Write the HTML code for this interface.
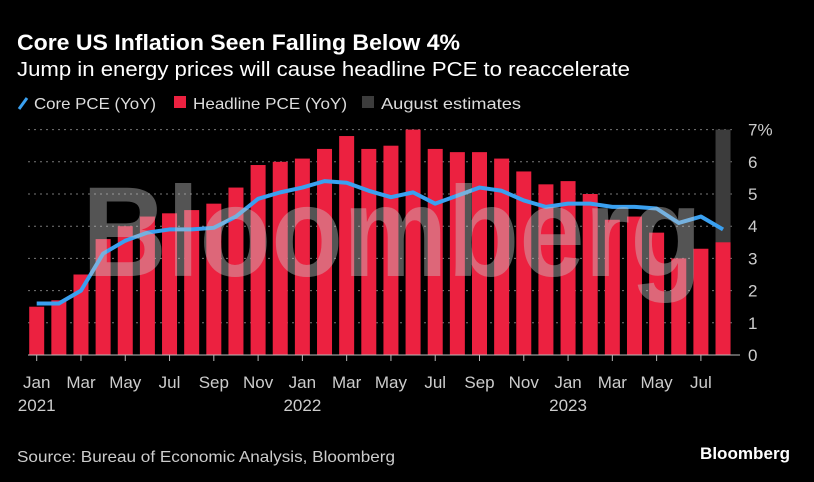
<!DOCTYPE html>
<html><head><meta charset="utf-8"><style>
html,body{margin:0;padding:0;background:#000;}
svg{display:block;font-family:"Liberation Sans",sans-serif;}
</style></head><body>
<svg id="chart" width="814" height="482" viewBox="0 0 814 482" xmlns="http://www.w3.org/2000/svg">
<rect width="814" height="482" fill="#000"/>
<text x="17" y="50" fill="#fff" font-size="22" font-weight="bold" textLength="443" lengthAdjust="spacingAndGlyphs">Core US Inflation Seen Falling Below 4%</text>
<text x="17" y="76" fill="#fff" font-size="20" textLength="613" lengthAdjust="spacingAndGlyphs">Jump in energy prices will cause headline PCE to reaccelerate</text>
<g>
  <g><line x1="19" y1="109" x2="27" y2="98" stroke="#3aa0f0" stroke-width="3"/><text x="34" y="109" fill="#ddd" font-size="16" textLength="122" lengthAdjust="spacingAndGlyphs">Core PCE (YoY)</text></g>
  <g><rect x="174" y="96" width="12" height="12" fill="#ec2140"/><text x="193" y="109" fill="#ddd" font-size="16" textLength="154" lengthAdjust="spacingAndGlyphs">Headline PCE (YoY)</text></g>
  <g><rect x="362" y="96" width="12" height="12" fill="#3c3c3c"/><text x="381" y="109" fill="#ddd" font-size="16" textLength="140" lengthAdjust="spacingAndGlyphs">August estimates</text></g>
</g>
<g id="grid"></g>
<g id="bars"></g>
<g id="line"></g>
<g id="axis"></g>
<text x="82" y="276" fill="rgba(200,200,200,0.42)" font-size="128" font-weight="bold" textLength="620" lengthAdjust="spacingAndGlyphs">Bloomberg</text>
<text x="17" y="462" fill="#ccc" font-size="16" textLength="378" lengthAdjust="spacingAndGlyphs">Source: Bureau of Economic Analysis, Bloomberg</text>
<text x="700" y="459" fill="#fff" font-size="17" font-weight="bold" textLength="90" lengthAdjust="spacingAndGlyphs">Bloomberg</text>
</svg>
<script>
const months = ["Jan","Feb","Mar","Apr","May","Jun","Jul","Aug","Sep","Oct","Nov","Dec","Jan","Feb","Mar","Apr","May","Jun","Jul","Aug","Sep","Oct","Nov","Dec","Jan","Feb","Mar","Apr","May","Jun","Jul","Aug"];
const headline = [1.5,1.7,2.5,3.6,4.0,4.3,4.4,4.5,4.7,5.2,5.9,6.0,6.1,6.4,6.8,6.4,6.5,7.0,6.4,6.3,6.3,6.1,5.7,5.3,5.4,5.0,4.2,4.3,3.8,3.0,3.3,3.5];
const core = [1.6,1.6,2.0,3.15,3.55,3.8,3.9,3.9,3.95,4.3,4.85,5.05,5.2,5.4,5.35,5.1,4.9,5.05,4.7,4.95,5.2,5.1,4.8,4.6,4.7,4.7,4.6,4.6,4.55,4.1,4.3,3.9];
const yTicks = [0,1,2,3,4,5,6,7];
const estimateIndex = 31;
const estimateTop = 7;

const NS="http://www.w3.org/2000/svg";
const X = i => 36.7 + i*22.14;
const Y = v => 355 - v*32.2;
function mk(tag, attrs, parent){const e=document.createElementNS(NS,tag);for(const k in attrs)e.setAttribute(k,attrs[k]);document.getElementById(parent).appendChild(e);return e;}

yTicks.forEach(t=>{
  if(t>0){const g=mk('line',{x1:28,x2:735,y1:Y(t),y2:Y(t),stroke:'#777','stroke-width':1,'stroke-dasharray':'2 4'},'grid');
  
  }
  const lb=mk('text',{x:748,y:Y(t)+6,fill:'#ccc','font-size':17},'axis');
  lb.textContent = t===7 ? '7%' : String(t);
  
  
});
const est=mk('rect',{x:X(estimateIndex)-7.5,y:Y(estimateTop),width:15,height:Y(0)-Y(estimateTop),fill:'#3c3c3c'},'bars');


headline.forEach((v,i)=>{
  const r=mk('rect',{x:X(i)-7.5,y:Y(v),width:15,height:Y(0)-Y(v),fill:'#ec2140'},'bars');
  
  
});
const pl=mk('polyline',{points:core.map((v,i)=>X(i)+','+Y(v)).join(' '),fill:'none',stroke:'#3aa0f0','stroke-width':4,'stroke-linejoin':'round'},'line');


const ax=mk('line',{x1:28,x2:740,y1:355,y2:355,stroke:'#bbb','stroke-width':1},'axis');


months.forEach((m,i)=>{
  if(i%2) return;
  const tk=mk('line',{x1:X(i),x2:X(i),y1:355,y2:361,stroke:'#bbb'},'axis');
  
  
  const lb=mk('text',{x:X(i),y:388,fill:'#ccc','font-size':17,'text-anchor':'middle'},'axis');
  lb.textContent=m;
  
  
  if(m==='Jan'){
    const yr=mk('text',{x:X(i),y:411,fill:'#ccc','font-size':17,'text-anchor':'middle'},'axis');
    yr.textContent=String(2021+Math.floor(i/12));
    
    
  }
});
</script>
</body></html>
